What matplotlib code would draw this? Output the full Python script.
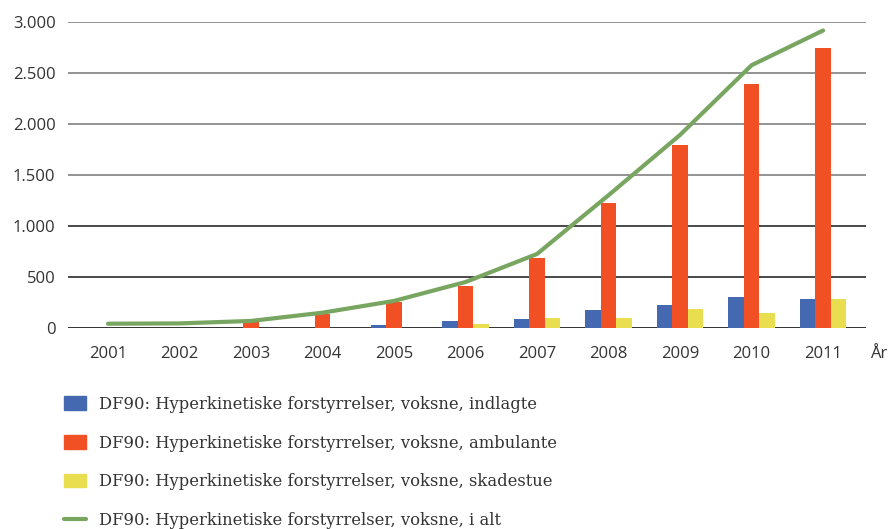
import matplotlib
matplotlib.use("Agg")
import matplotlib.pyplot as plt
from matplotlib.patches import Patch
from matplotlib.lines import Line2D
import numpy as np

years = ["2001", "2002", "2003", "2004", "2005", "2006", "2007", "2008", "2009", "2010", "2011"]
indlagte = [0, 0, 0, 0, 33, 72, 88, 176, 225, 304, 284]
ambulante = [0, 0, 59, 140, 251, 412, 686, 1225, 1794, 2392, 2745]
skadestue = [0, 0, 0, 0, 0, 42, 98, 98, 186, 147, 284]
i_alt = [42, 45, 69, 150, 265, 450, 725, 1300, 1890, 2572, 2912]
yticks = [0, 500, 1000, 1500, 2000, 2500, 3000]
ytick_labels = ["0", "500", "1.000", "1.500", "2.000", "2.500", "3.000"]
labels = [
    "DF90: Hyperkinetiske forstyrrelser, voksne, indlagte",
    "DF90: Hyperkinetiske forstyrrelser, voksne, ambulante",
    "DF90: Hyperkinetiske forstyrrelser, voksne, skadestue",
    "DF90: Hyperkinetiske forstyrrelser, voksne, i alt",
]
colors = ["#4469B0", "#F05023", "#E9DD50", "#78A660"]

fig = plt.figure(figsize=(8.93, 5.29), dpi=100)
ax = fig.add_axes([68 / 893, 1 - 328 / 529, 798 / 893, (328 - 21.5) / 529])

x = np.arange(len(years))
w = 0.217
ax.bar(x - w, indlagte, w, color=colors[0], zorder=2)
ax.bar(x, ambulante, w, color=colors[1], zorder=2)
ax.bar(x + w, skadestue, w, color=colors[2], zorder=2)
ax.plot(x, i_alt, color=colors[3], lw=3.0, solid_capstyle="round", zorder=3)

ax.set_xlim(-0.56, 10.6)
ax.set_ylim(0, 3000)
ax.set_yticks(yticks)
ax.set_yticklabels(ytick_labels)
ax.set_xticks(x)
ax.set_xticklabels(years)
for s in ax.spines.values():
    s.set_visible(False)
ax.tick_params(axis="both", length=0, labelsize=12, colors="#333333")
ax.tick_params(axis="y", pad=9)
ax.tick_params(axis="x", pad=13)
for lab in ax.get_xticklabels() + ax.get_yticklabels():
    lab.set_fontfamily("Open Sans")
ax.yaxis.grid(True, lw=1.2, zorder=0)
for val, gl in zip(yticks, ax.get_ygridlines()):
    gl.set_color("#808080" if val >= 1500 else ("#111111" if val == 0 else "#2a2a2a"))

fig.text(870 / 893, 1 - 354 / 529, "År", fontsize=12, family="Open Sans",
         color="#333333", va="center", ha="left")

handles = [Patch(color=colors[0]), Patch(color=colors[1]), Patch(color=colors[2]),
           Line2D([], [], color=colors[3], lw=3.0, solid_capstyle="round")]
fig.legend(handles, labels, loc="upper left", bbox_to_anchor=(49 / 893, 1 - 381 / 529),
           frameon=False, prop={"family": "DejaVu Serif", "size": 11.8},
           handlelength=1.35, handleheight=0.9, handletextpad=0.8, labelspacing=1.33,
           labelcolor="#333333")

fig.savefig("out.png", dpi=100)
